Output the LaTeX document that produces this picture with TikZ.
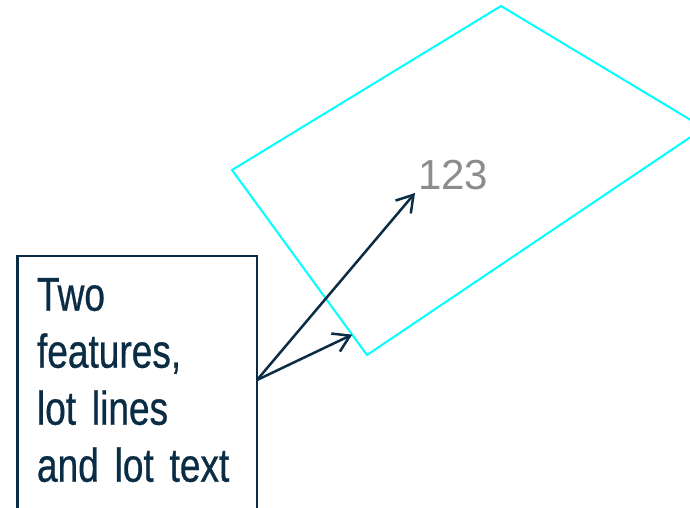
\documentclass[tikz,border=0pt]{standalone}
\usepackage{fontspec}
\setmainfont{Liberation Sans}
\newfontfamily\notefont[FakeStretch=0.78, WordSpace=0.75, FakeBold=0.6]{Liberation Sans}
\usetikzlibrary{arrows.meta, positioning, calc}

\definecolor{notenavy}{RGB}{10,44,68}
\definecolor{lotcyan}{RGB}{0,255,255}

\begin{document}
\begin{tikzpicture}[x=1pt, y=-1pt, >={Straight Barb[length=16pt, width=20pt]},
    pointer/.style={->, notenavy, line width=2.5pt}]

      \useasboundingbox (0,0) rectangle (690,507);
      \clip (0,0) rectangle (690,507);

      % lot outline
      \coordinate (lottop) at (501,6);
      \coordinate (lotright) at (704,128);
      \coordinate (lotbottom) at (367,355);
      \coordinate (lotleft) at (232,170);
      \draw[lotcyan, line width=2pt] (lottop) -- (lotright) -- (lotbottom) -- (lotleft) -- cycle;
      \coordinate (lotedge) at ($(lotbottom)!0.11!(lotleft)$);

      \node[text=gray!90, font=\fontsize{42}{42}\selectfont, inner sep=3pt, anchor=south west] (lotnum) at (415,193) {123};

      \node[draw=notenavy, line width=2.5pt, outer sep=0pt, inner xsep=19.5pt, inner ysep=22pt,
        text width=200.5pt, align=left, text=notenavy, font=\notefont\fontsize{47.5}{57}\selectfont,
        anchor=north west] (note) at (17.5,256)
        {Two\\features,\\lot lines\\and lot text\rule[-40pt]{0pt}{40pt}};
      \coordinate (tail) at ($(note.north east)+(0,124)$);

      \draw[pointer] (tail) -- (lotnum.south west);
      \draw[pointer] (tail) -- (lotedge);

    \end{tikzpicture}
\end{document}
